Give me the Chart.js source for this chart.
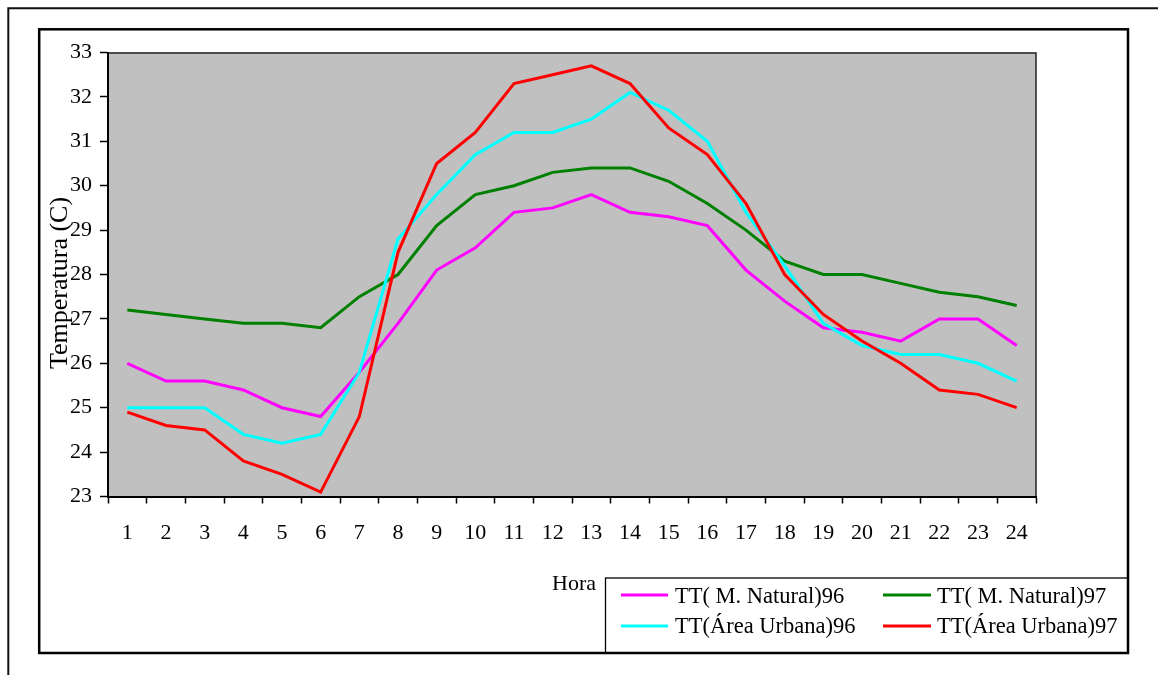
<!DOCTYPE html>
<html>
<head>
<meta charset="utf-8">
<script src="https://cdn.jsdelivr.net/npm/chart.js@4"></script>
<style>
html,body{margin:0;padding:0;background:#fff;overflow:hidden;}
#wrap{position:relative;width:1158px;height:675px;}
canvas{display:block;}
</style>
</head>
<body>
<div id="wrap"><canvas id="c" width="1158" height="675"></canvas></div>
<script>
const hours = ['1','2','3','4','5','6','7','8','9','10','11','12','13','14','15','16','17','18','19','20','21','22','23','24'];
const natural96 = [26.0, 25.6, 25.6, 25.4, 25.0, 24.8, 25.8, 26.9, 28.1, 28.6, 29.4, 29.5, 29.8, 29.4, 29.3, 29.1, 28.1, 27.4, 26.8, 26.7, 26.5, 27.0, 27.0, 26.4];
const natural97 = [27.2, 27.1, 27.0, 26.9, 26.9, 26.8, 27.5, 28.0, 29.1, 29.8, 30.0, 30.3, 30.4, 30.4, 30.1, 29.6, 29.0, 28.3, 28.0, 28.0, 27.8, 27.6, 27.5, 27.3];
const urbana96 = [25.0, 25.0, 25.0, 24.4, 24.2, 24.4, 25.8, 28.8, 29.8, 30.7, 31.2, 31.2, 31.5, 32.1, 31.7, 31.0, 29.4, 28.2, 26.9, 26.4, 26.2, 26.2, 26.0, 25.6];
const urbana97 = [24.9, 24.6, 24.5, 23.8, 23.5, 23.1, 24.8, 28.5, 30.5, 31.2, 32.3, 32.5, 32.7, 32.3, 31.3, 30.7, 29.6, 28.0, 27.1, 26.5, 26.0, 25.4, 25.3, 25.0];
const seriesNames = ['TT( M. Natural)96', 'TT( M. Natural)97', 'TT(Área Urbana)96', 'TT(Área Urbana)97'];
const seriesColors = ['#FF00FF', '#008000', '#00FFFF', '#FF0000'];
const xTitle = 'Hora';
const yTitle = 'Temperatura (C)';

const FONT = '"Liberation Serif", "Times New Roman", serif';

const framePlugin = {
  id: 'frame',
  beforeDraw(chart) {
    const ctx = chart.ctx, a = chart.chartArea;
    ctx.save();
    ctx.fillStyle = '#fff';
    ctx.fillRect(0, 0, chart.width, chart.height);
    ctx.fillStyle = '#C0C0C0';
    ctx.fillRect(a.left, a.top, a.right - a.left, a.bottom - a.top);
    ctx.strokeStyle = '#222';
    ctx.lineWidth = 1.5;
    ctx.beginPath();
    ctx.moveTo(a.left, a.top + 0.5);
    ctx.lineTo(a.right, a.top + 0.5);
    ctx.lineTo(a.right, a.bottom);
    ctx.stroke();
    ctx.restore();
  },
  afterDraw(chart) {
    const ctx = chart.ctx;
    ctx.save();
    // outer frame (top & left)
    ctx.strokeStyle = '#111';
    ctx.lineWidth = 2;
    ctx.beginPath();
    ctx.moveTo(8.3, 680);
    ctx.lineTo(8.3, 8.3);
    ctx.lineTo(1165, 8.3);
    ctx.stroke();
    // axis titles
    ctx.fillStyle = '#000';
    ctx.font = '22px ' + FONT;
    ctx.textAlign = 'center';
    ctx.textBaseline = 'alphabetic';
    ctx.fillText(xTitle, 574, 590);
    ctx.save();
    ctx.translate(67, 283);
    ctx.rotate(-Math.PI / 2);
    ctx.font = '26px ' + FONT;
    ctx.fillText(yTitle, 0, 0);
    ctx.restore();
    // legend box
    ctx.fillStyle = '#fff';
    ctx.fillRect(605.5, 578, 1128 - 605.5, 653 - 578);
    ctx.strokeStyle = '#000';
    ctx.lineWidth = 1.3;
    ctx.strokeRect(605.5, 578, 1128 - 605.5, 653 - 578);
    // inner frame
    ctx.lineWidth = 2.5;
    ctx.strokeRect(39.2, 29.3, 1128 - 39.2, 653 - 29.3);
    const cols = [[621, 668, 675], [883, 931, 937]];
    const rows = [[595, 603], [626, 633]];
    chart.data.datasets.forEach((ds, i) => {
      const c = cols[i % 2], r = rows[Math.floor(i / 2)];
      ctx.strokeStyle = ds.borderColor;
      ctx.lineWidth = 3;
      ctx.beginPath();
      ctx.moveTo(c[0], r[0]);
      ctx.lineTo(c[1], r[0]);
      ctx.stroke();
      ctx.fillStyle = '#000';
      ctx.font = '22.5px ' + FONT;
      ctx.textAlign = 'left';
      ctx.textBaseline = 'alphabetic';
      ctx.fillText(ds.label, c[2], r[1]);
    });
    ctx.restore();
  }
};

const allSeries = [natural96, natural97, urbana96, urbana97];
const orders = [3, 2, 1, 0];

new Chart(document.getElementById('c'), {
  type: 'line',
  data: {
    labels: hours,
    datasets: allSeries.map((d, i) => ({
      label: seriesNames[i],
      data: d,
      borderColor: seriesColors[i],
      backgroundColor: seriesColors[i],
      borderWidth: 3,
      pointRadius: 0,
      tension: 0,
      fill: false,
      order: orders[i]
    }))
  },
  options: {
    responsive: false,
    animation: false,
    devicePixelRatio: 1,
    layout: { padding: { left: 39, top: 52.5, right: 122, bottom: 118.5 } },
    plugins: { legend: { display: false }, tooltip: { enabled: false }, title: { display: false } },
    scales: {
      x: {
        type: 'category',
        offset: true,
        afterFit(scale) { scale.height = 60; },
        grid: { display: true, drawOnChartArea: false, drawTicks: true, tickLength: 7, tickColor: '#000', tickWidth: 1.5, offset: true },
        border: { display: true, color: '#000', width: 2 },
        ticks: { color: '#000', font: { family: FONT, size: 22 }, padding: 17, maxRotation: 0, autoSkip: false }
      },
      y: {
        min: 23, max: 33,
        afterFit(scale) { scale.width = 69; },
        grid: { display: true, drawOnChartArea: false, drawTicks: true, tickLength: 8, tickColor: '#000', tickWidth: 1.5 },
        border: { display: true, color: '#000', width: 2 },
        ticks: { stepSize: 1, color: '#000', font: { family: FONT, size: 22 }, padding: 8 }
      }
    }
  },
  plugins: [framePlugin]
});
</script>
</body>
</html>
